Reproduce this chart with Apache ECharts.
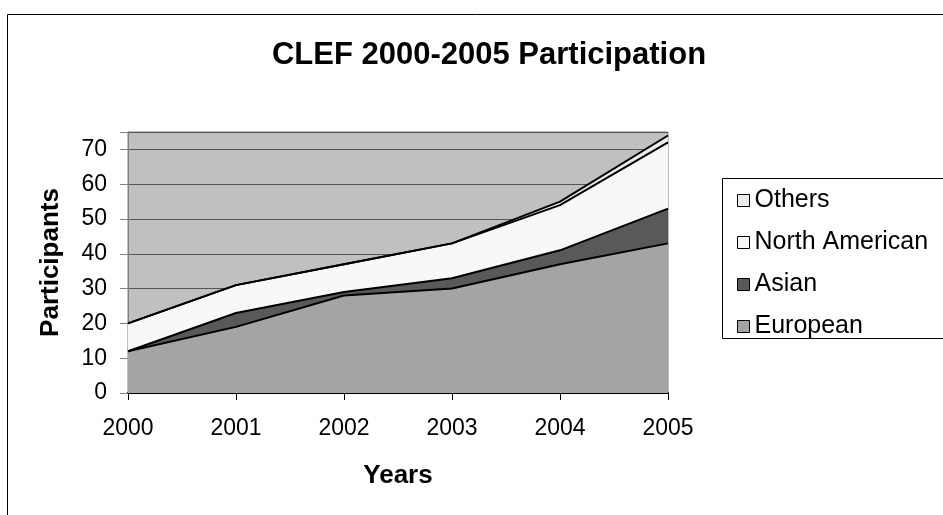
<!DOCTYPE html>
<html><head><meta charset="utf-8">
<script src="https://cdn.jsdelivr.net/npm/echarts@6/dist/echarts.min.js"></script>
<style>html,body{margin:0;padding:0;background:#fff}#c{width:943px;height:515px}</style>
</head><body><div id="c"></div>
<script>
const years = ['2000','2001','2002','2003','2004','2005'];
const european = [12,19,28,30,37,43];
const asian = [0,4,1,3,4,10];
const northAmerican = [8,8,8,10,13,19];
const others = [0,0,0,0,1,2];
const yTicks = [0,10,20,30,40,50,60,70];

const font = 'Liberation Sans, Arial, sans-serif';
const chart = echarts.init(document.getElementById('c'), null, {renderer:'canvas'});
function area(name, data, color){
  return {name, type:'line', stack:'total', data, symbol:'none', smooth:false,
    lineStyle:{color:'#000', width:2}, itemStyle:{color:color, borderColor:'#000', borderWidth:1},
    areaStyle:{color:color, opacity:1}, emphasis:{disabled:true}, z:3};
}
chart.setOption({
  animation:false,
  backgroundColor:'#fff',
  graphic:[
    {type:'rect', left:5, top:12, shape:{width:1000, height:600}, style:{fill:'none', stroke:'#000', lineWidth:1}, z:-1},
    {type:'rect', left:722, top:178, shape:{width:300, height:160}, style:{fill:'#fff', stroke:'#000', lineWidth:1}, z:0}
  ],
  title:{text:'CLEF 2000-2005 Participation', left:484, textAlign:'center', top:35,
    textStyle:{fontFamily:font, fontSize:31, fontWeight:'bold', color:'#000'}},
  legend:{orient:'vertical', left:732, top:183, itemWidth:12, itemHeight:12, itemGap:17,
    icon:'rect', data:['Others','North American','Asian','European'],
    textStyle:{fontFamily:font, fontSize:25, color:'#000', lineHeight:25},
    itemStyle:{borderColor:'#000', borderWidth:1}},
  grid:{left:128, right:275, top:132, bottom:122, show:true, backgroundColor:'#c0c0c0', borderColor:'#808080', borderWidth:1},
  xAxis:{type:'category', data:years, boundaryGap:false,
    name:'Years', nameLocation:'middle', nameGap:70,
    nameTextStyle:{fontFamily:font, fontSize:26, fontWeight:'bold', color:'#000'},
    axisLine:{lineStyle:{color:'#000', width:2}},
    axisTick:{show:true, length:7, lineStyle:{color:'#000'}},
    axisLabel:{fontFamily:font, fontSize:23, color:'#000', margin:24},
    splitLine:{show:false}},
  yAxis:{type:'value', min:0, max:75, interval:10,
    name:'Participants', nameLocation:'middle', nameGap:64,
    nameTextStyle:{fontFamily:font, fontSize:26, fontWeight:'bold', color:'#000'},
    axisLine:{show:true, lineStyle:{color:'#808080', width:1}},
    axisTick:{show:true, length:8, lineStyle:{color:'#808080'}},
    axisLabel:{fontFamily:font, fontSize:23, color:'#000', margin:21,
      formatter:v => yTicks.includes(v) ? String(v) : ''},
    splitLine:{show:true, lineStyle:{color:'#555', width:1}}},
  series:[
    area('European', european, '#a4a4a4'),
    area('Asian', asian, '#595959'),
    area('North American', northAmerican, '#f8f8f8'),
    area('Others', others, '#ececec')
  ]
});
</script></body></html>
